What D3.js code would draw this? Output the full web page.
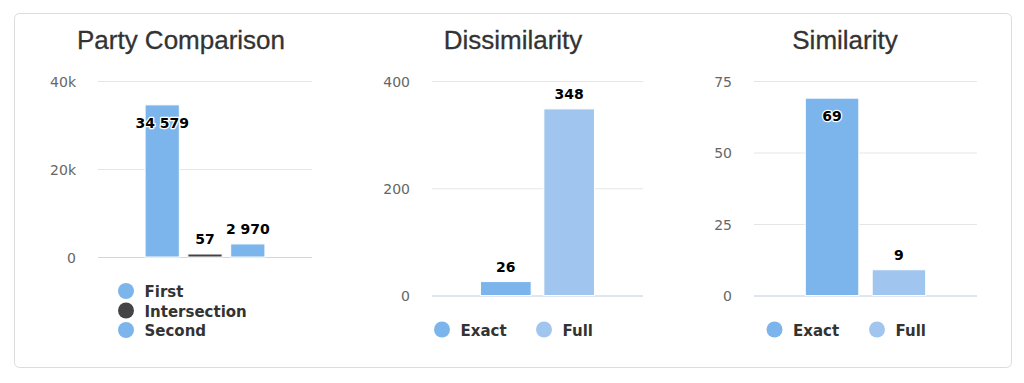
<!DOCTYPE html>
<html>
<head>
<meta charset="utf-8">
<script src="https://cdn.jsdelivr.net/npm/d3@7"></script>
<style>
  body { margin: 0; background: #fff; }
  svg { display: block; }
</style>
</head>
<body>
<div id="chart"></div>
<script>
// chart values
var partyNames = ["First", "Intersection", "Second"];
var partyValues = [34579, 57, 2970];
var partyTicks = [0, 20000, 40000];

var dissimNames = ["Exact", "Full"];
var dissimValues = [26, 348];
var dissimTicks = [0, 200, 400];

var simNames = ["Exact", "Full"];
var simValues = [69, 9];
var simTicks = [0, 25, 50, 75];

var W = 1024, H = 383;
var svg = d3.select("#chart").append("svg")
    .attr("width", W)
    .attr("height", H);

// card round everything
svg.append("rect")
    .attr("x", 14.5).attr("y", 13.5)
    .attr("width", 997).attr("height", 354)
    .attr("rx", 5)
    .attr("fill", "#fff")
    .attr("stroke", "#dcdcdc");

var fmt = function(v) {
    // thousands with a space, like "34 579"
    return d3.format(",")(v).replace(/,/g, " ");
};

function drawChart(opt) {
    var g = svg.append("g");

    g.append("text")
        .attr("x", opt.cx)
        .attr("y", 49)
        .attr("text-anchor", "middle")
        .style("font-family", "'Liberation Sans', Arial, sans-serif")
        .style("font-size", "26px")
        .style("fill", "#333")
        .style("stroke", "#333")
        .style("stroke-width", 0.3)
        .text(opt.title);

    var y = d3.scaleLinear()
        .domain([0, opt.ticks[opt.ticks.length - 1]])
        .range([opt.bottom, opt.top]);

    var pw = opt.right - opt.left;
    var x = d3.scaleBand()
        .domain(opt.names)
        .range([opt.left + pw * 0.2, opt.right - pw * 0.2])
        .paddingInner(0.2)
        .paddingOuter(0.1);

    // grid
    var yAxis = d3.axisLeft(y)
        .tickValues(opt.ticks)
        .tickSize(-pw)
        .tickPadding(opt.left - opt.labelRight)
        .tickFormat(opt.tickFormat);

    var ax = g.append("g")
        .attr("transform", "translate(" + opt.left + ",0)")
        .call(yAxis);
    ax.select(".domain").remove();
    ax.selectAll(".tick line")
        .attr("stroke", "#e6e6e6")
        .attr("stroke-width", 1);
    ax.selectAll(".tick text")
        .style("font-family", "'DejaVu Sans', sans-serif")
        .style("font-size", "14px")
        .style("fill", "#666")
        .attr("dy", "0.36em");

    // baseline
    g.append("line")
        .attr("x1", opt.left).attr("x2", opt.right)
        .attr("y1", y(0) + 0.5).attr("y2", y(0) + 0.5)
        .attr("stroke", "#ccd6eb");

    var data = opt.names.map(function(n, i) {
        return { name: n, value: opt.values[i], color: opt.colors[i] };
    });

    var barTop = function(d) {
        // small values still get a few pixels, like minPointLength
        return Math.min(y(d.value), y(0) - 3);
    };

    g.selectAll(".bar")
        .data(data)
        .enter().append("rect")
        .attr("class", "bar")
        .attr("x", function(d) { return x(d.name); })
        .attr("width", x.bandwidth())
        .attr("y", barTop)
        .attr("height", function(d) { return y(0) - barTop(d); })
        .attr("fill", function(d) { return d.color; })
        .attr("stroke", "#fff")
        .attr("stroke-width", 1);

    g.selectAll(".lbl")
        .data(data)
        .enter().append("text")
        .attr("class", "lbl")
        .attr("x", function(d) { return x(d.name) + x.bandwidth() / 2; })
        .attr("y", function(d) {
            var t = barTop(d);
            return (t - opt.top < 26) ? t + 23 : t - 10;
        })
        .attr("text-anchor", "middle")
        .style("font-family", "'DejaVu Sans', sans-serif")
        .style("font-weight", "bold")
        .style("font-size", "14px")
        .style("fill", "#000")
        .style("stroke", "#fff")
        .style("stroke-width", 2.5)
        .style("stroke-linejoin", "round")
        .style("paint-order", "stroke")
        .text(function(d) { return fmt(d.value); });

    // legend
    var leg = g.selectAll(".leg")
        .data(data)
        .enter().append("g")
        .attr("class", "leg")
        .attr("transform", function(d, i) {
            return "translate(" + opt.legX[i] + "," + opt.legY[i] + ")";
        });
    leg.append("circle")
        .attr("r", 8)
        .attr("fill", function(d) { return d.color; });
    leg.append("text")
        .attr("x", 18.5)
        .attr("y", 6)
        .style("font-family", "'DejaVu Sans', sans-serif")
        .style("font-weight", "bold")
        .style("font-size", "15px")
        .style("fill", "#333")
        .text(function(d) { return d.name; });
}

var blue = "#7cb5ec", dark = "#434348", light = "#a0c6ef";

drawChart({
    title: "Party Comparison", cx: 181,
    names: partyNames, values: partyValues, ticks: partyTicks,
    colors: [blue, dark, blue],
    tickFormat: function(v) { return v === 0 ? "0" : (v / 1000) + "k"; },
    left: 98, right: 312, top: 81, bottom: 257, labelRight: 76,
    legX: [126, 126, 126], legY: [291, 310.5, 330]
});

drawChart({
    title: "Dissimilarity", cx: 513,
    names: dissimNames, values: dissimValues, ticks: dissimTicks,
    colors: [blue, light],
    tickFormat: d3.format("d"),
    left: 432, right: 643, top: 81, bottom: 295.5, labelRight: 410,
    legX: [442, 544], legY: [329.5, 329.5]
});

drawChart({
    title: "Similarity", cx: 845,
    names: simNames, values: simValues, ticks: simTicks,
    colors: [blue, light],
    tickFormat: d3.format("d"),
    left: 754, right: 977, top: 81, bottom: 295.5, labelRight: 732,
    legX: [774.5, 877], legY: [329.5, 329.5]
});
</script>
</body>
</html>
